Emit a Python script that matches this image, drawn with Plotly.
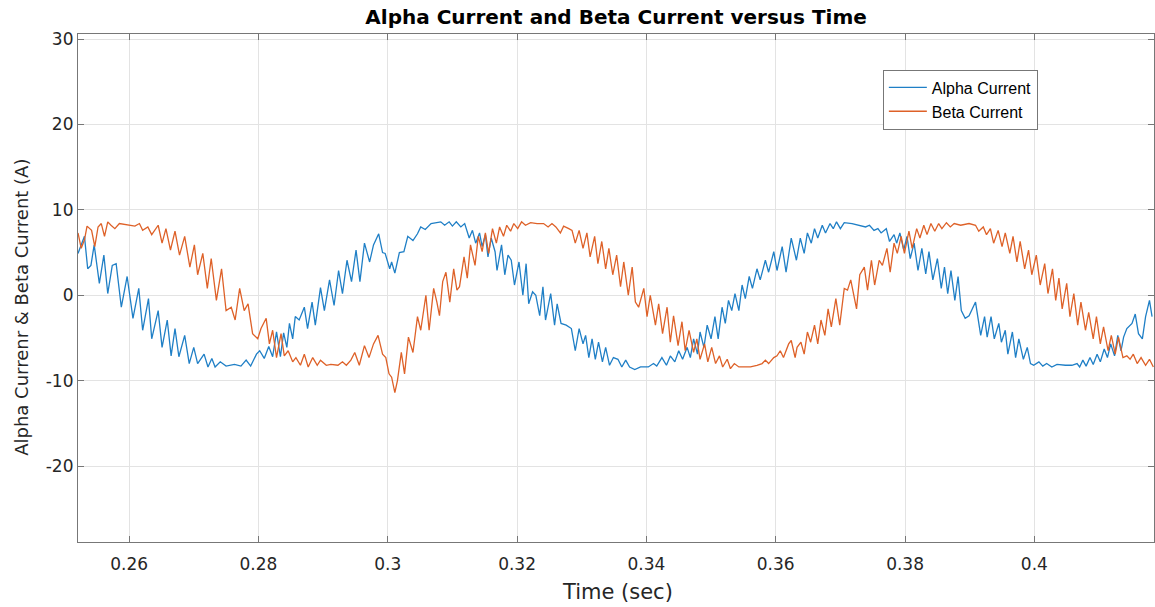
import plotly.graph_objects as go

# Alpha current (blue) vertices: time (s), current (A)
alpha_t = [
0.2521,0.2531,0.2536,0.2541,0.2546,0.2554,0.2561,0.2567,0.2574,0.2580,0.2588,0.2597,0.2606,0.2615,0.2621,0.2630,0.2635,0.2645,0.2651,0.2659,
0.2665,0.2671,0.2677,0.2686,0.2693,0.2700,0.2706,0.2716,0.2722,0.2728,0.2733,0.2741,0.2750,0.2763,0.2773,0.2781,0.2788,0.2797,0.2802,0.2809,
0.2816,0.2822,0.2828,0.2834,0.2839,0.2844,0.2848,0.2853,0.2857,0.2863,0.2871,0.2876,0.2883,0.2888,0.2896,0.2902,0.2910,0.2917,0.2924,0.2930,
0.2937,0.2944,0.2951,0.2957,0.2964,0.2972,0.2978,0.2986,0.2992,0.2996,0.3003,0.3006,0.3011,0.3018,0.3025,0.3031,0.3039,0.3046,0.3051,0.3058,
0.3067,
0.3077,0.3082,0.3088,0.3095,0.3100,0.3106,0.3113,0.3119,0.3126,0.3131,0.3136,0.3142,0.3146,0.3151,0.3155,0.3160,0.3166,0.3169,0.3176,0.3181,
0.3186,0.3191,0.3196,0.3203,0.3209,0.3214,0.3218,0.3224,0.3229,0.3235,0.3240,0.3244,0.3252,0.3258,0.3262,0.3268,0.3276,0.3284,0.3290,0.3296,
0.3302,0.3306,0.3311,0.3316,0.3321,0.3326,0.3332,0.3337,0.3343,0.3349,0.3356,0.3362,0.3368,0.3374,0.3382,0.3391,0.3403,0.3411,0.3416,0.3424,
0.3431,0.3437,0.3444,0.3450,0.3456,0.3463,0.3468,0.3473,0.3479,0.3483,0.3489,0.3494,0.3500,0.3506,0.3511,0.3517,0.3522,0.3527,0.3532,0.3537,
0.3543,0.3548,0.3553,0.3559,0.3564,0.3571,0.3576,0.3584,0.3589,0.3597,0.3602,0.3610,0.3616,0.3624,
0.3632,0.3638,0.3644,0.3649,0.3655,0.3660,0.3665,0.3672,0.3677,0.3684,0.3689,0.3694,0.3700,0.3706,0.3718,0.3731,0.3739,0.3745,0.3752,0.3758,
0.3763,0.3771,0.3776,0.3783,0.3787,0.3792,0.3798,0.3803,0.3808,0.3814,0.3820,0.3826,0.3832,0.3837,0.3843,0.3850,0.3856,0.3861,0.3866,0.3871,
0.3877,0.3882,0.3887,0.3893,0.3899,0.3909,0.3917,0.3923,0.3927,0.3933,0.3938,0.3945,0.3949,0.3955,0.3959,0.3966,0.3971,0.3976,0.3983,0.3989,
0.3994,0.3999,0.4007,0.4013,0.4019,0.4027,0.4035,0.4048,0.4058,0.4066,0.4070,0.4075,0.4080,0.4086,0.4091,0.4097,0.4102,0.4108,0.4113,0.4118,
0.4124,0.4129,0.4134,0.4138,0.4143,0.4151,0.4156,0.4161,0.4167,0.4172,0.4178,0.4182,
]
alpha_i = [
4.9,6.9,3.1,3.5,5.9,1.4,4.7,0.2,3.5,3.7,-1.4,2.2,-2.7,0.8,-4.1,-0.4,-5.1,-1.8,-6.1,-2.9,
-7.1,-3.9,-7.2,-4.7,-8.0,-6.1,-8.0,-6.9,-8.4,-7.4,-8.4,-7.8,-8.3,-8.1,-8.3,-7.6,-8.3,-6.9,-6.5,-7.4,
-6.0,-7.2,-4.3,-7.2,-4.4,-6.1,-3.3,-5.1,-2.5,-2.9,-1.4,-3.9,-0.8,-3.5,0.9,-1.8,1.8,-1.2,2.9,0.2,
4.1,1.6,5.3,1.6,6.1,3.9,5.9,7.2,5.0,4.9,3.1,3.9,2.6,5.0,5.1,6.9,6.4,7.2,8.0,7.7,
8.4,
8.5,8.6,8.2,8.6,8.1,8.6,8.0,8.4,6.7,7.6,6.1,7.3,5.7,7.1,4.5,6.7,5.1,2.9,5.9,2.4,
4.7,4.1,1.2,3.9,0.0,3.7,-1.0,0.4,0.0,-2.4,1.0,-2.9,0.2,-3.5,-1.0,-3.3,-3.5,-3.9,-6.5,-3.9,
-5.7,-4.7,-7.3,-5.1,-7.5,-5.5,-7.8,-6.1,-8.2,-7.3,-7.5,-8.4,-7.6,-8.4,-8.7,-8.4,-8.4,-8.0,-8.3,-7.3,
-8.2,-7.1,-7.8,-6.5,-7.5,-6.1,-7.3,-5.1,-6.9,-4.3,-6.1,-3.5,-5.1,-2.5,-5.1,-1.4,-3.3,-0.6,-1.8,0.2,
-1.8,1.2,-0.4,2.2,0.8,3.1,1.8,4.1,2.7,5.1,2.9,5.7,2.7,6.7,
4.1,6.7,4.9,7.3,6.1,7.8,6.7,8.2,7.3,8.4,7.8,8.6,7.8,8.5,8.4,8.2,8.0,8.2,7.6,7.8,
7.3,7.8,6.3,7.1,6.1,7.3,5.3,6.9,4.3,6.1,2.9,5.5,2.5,5.1,1.8,4.3,0.8,3.3,0.2,2.9,
-0.6,2.2,-1.8,-2.7,-2.4,-0.8,-4.7,-2.5,-4.9,-2.5,-5.1,-3.3,-5.5,-4.1,-6.9,-4.3,-7.3,-5.1,-7.5,-6.1,
-8.0,-8.2,-7.8,-8.3,-8.0,-8.4,-8.1,-8.2,-8.2,-8.0,-8.4,-7.6,-8.3,-7.3,-8.1,-6.9,-7.8,-6.3,-7.3,-5.7,
-7.1,-4.7,-6.5,-4.9,-3.9,-3.3,-2.2,-4.5,-5.1,-2.5,-0.6,-2.5,
]

# Beta current (orange) vertices: time (s), current (A)
beta_t = [
0.2521,0.2526,0.2531,0.2535,0.2542,0.2547,0.2552,0.2557,0.2562,0.2567,0.2572,0.2578,0.2585,0.2598,0.2609,0.2616,0.2621,0.2629,0.2635,0.2645,
0.2651,0.2657,0.2664,0.2671,0.2678,0.2686,0.2694,0.2701,0.2706,0.2714,0.2721,0.2727,0.2735,0.2743,0.2750,0.2758,0.2764,0.2771,0.2778,0.2784,
0.2791,0.2799,0.2804,0.2812,0.2817,0.2822,0.2828,0.2835,0.2840,0.2846,0.2853,0.2858,0.2865,0.2871,0.2877,0.2884,0.2891,0.2896,0.2905,0.2912,
0.2923,0.2930,0.2936,0.2943,0.2949,0.2956,0.2964,0.2971,0.2978,0.2985,0.2992,0.2997,0.3002,0.3006,0.3011,0.3015,0.3021,0.3026,0.3032,0.3039,
0.3046,0.3051,0.3059,0.3064,0.3071,
0.3076,0.3080,0.3085,0.3090,0.3096,0.3102,0.3107,0.3111,0.3118,0.3123,0.3128,0.3135,0.3140,0.3146,0.3151,0.3156,0.3162,0.3168,0.3173,0.3179,
0.3184,0.3190,0.3195,0.3201,0.3207,0.3213,0.3221,0.3231,0.3241,0.3248,0.3254,0.3260,0.3267,0.3272,0.3280,0.3285,0.3290,0.3296,0.3302,0.3308,
0.3313,0.3320,0.3325,0.3331,0.3337,0.3342,0.3348,0.3354,0.3360,0.3365,0.3372,0.3378,0.3383,0.3388,0.3396,0.3401,0.3406,0.3414,0.3419,0.3425,
0.3432,0.3437,0.3442,0.3449,0.3455,0.3460,0.3466,0.3473,0.3478,0.3483,0.3490,0.3495,0.3501,0.3507,0.3513,0.3518,0.3525,0.3530,0.3536,0.3543,
0.3550,0.3561,0.3571,0.3579,0.3584,0.3589,0.3597,0.3602,0.3607,0.3612,0.3620,0.3624,
0.3630,0.3633,0.3639,0.3644,0.3649,0.3654,0.3660,0.3665,0.3670,0.3676,0.3681,0.3686,0.3693,0.3699,0.3706,0.3711,0.3716,0.3725,0.3730,0.3737,
0.3742,0.3748,0.3753,0.3760,0.3765,0.3772,0.3777,0.3783,0.3788,0.3794,0.3799,0.3806,0.3811,0.3818,0.3823,0.3829,0.3834,0.3840,0.3846,0.3852,
0.3857,0.3864,0.3870,0.3876,0.3886,0.3899,0.3909,0.3914,0.3921,0.3926,0.3932,0.3937,0.3944,0.3950,0.3955,0.3962,0.3967,0.3973,0.3978,0.3985,
0.3991,0.3996,0.4003,0.4009,0.4016,0.4021,0.4028,0.4033,0.4038,0.4043,0.4050,0.4055,0.4061,0.4067,0.4072,0.4079,0.4084,0.4091,0.4096,0.4102,
0.4107,0.4114,0.4119,0.4125,0.4130,0.4137,0.4143,0.4148,0.4153,0.4159,0.4165,0.4172,0.4178,0.4184,
]
beta_i = [
7.3,5.5,6.5,8.1,7.6,5.7,8.0,8.4,6.9,8.6,8.2,7.8,8.4,8.2,8.1,8.4,7.6,8.0,7.1,8.2,
6.1,7.8,5.3,7.5,4.7,6.9,3.3,5.9,2.4,4.9,0.8,4.3,-0.6,3.1,-1.8,-1.4,-2.9,0.8,-1.8,-1.0,
-4.5,-5.1,-3.9,-2.7,-5.7,-4.1,-7.3,-4.5,-7.1,-6.5,-7.8,-7.3,-8.2,-6.9,-8.4,-7.3,-8.2,-7.6,-8.2,-8.1,
-8.2,-7.8,-8.2,-7.6,-6.7,-8.2,-5.9,-7.3,-5.7,-4.7,-6.9,-7.3,-9.2,-9.6,-11.4,-10.0,-6.7,-9.2,-4.9,-6.7,
-2.5,-4.1,0.0,-4.1,0.8,
-0.8,-2.4,1.6,2.7,-0.8,3.1,0.6,1.0,4.5,2.0,5.9,3.5,6.9,5.1,7.3,4.9,7.8,6.1,8.0,6.9,
8.2,7.5,8.4,7.8,8.6,8.2,8.5,8.4,8.4,8.0,8.4,8.0,7.3,8.1,7.8,7.6,6.1,7.6,5.5,7.3,
4.5,6.9,3.7,6.3,3.1,5.5,2.4,4.7,1.0,3.9,0.0,3.3,-0.8,-1.4,0.8,-2.5,0.0,-3.5,-1.0,-4.5,
-1.4,-5.5,-2.4,-5.9,-3.1,-6.5,-4.1,-6.7,-5.1,-7.5,-5.7,-7.8,-6.1,-8.0,-7.1,-8.4,-7.5,-8.6,-8.0,-8.4,
-8.4,-8.4,-8.2,-8.0,-7.6,-8.0,-7.3,-7.1,-6.5,-7.3,-5.7,-5.3,
-7.3,-6.1,-5.5,-6.9,-4.3,-5.5,-3.5,-5.7,-2.9,-4.7,-1.6,-3.7,-0.4,-3.5,0.8,0.6,1.8,-1.6,2.4,3.3,
0.6,4.1,1.2,4.1,3.5,5.5,2.7,6.1,4.9,6.9,4.9,7.5,5.5,7.8,6.7,8.2,7.1,8.4,7.5,8.4,
7.8,8.5,8.0,8.4,8.2,8.4,8.2,7.5,8.0,7.1,7.8,6.1,7.6,5.7,7.3,4.9,6.9,3.9,6.3,3.1,
5.3,2.4,4.7,1.2,3.7,0.2,3.1,-0.6,2.0,-1.6,1.4,-2.5,0.2,-3.5,-0.8,-4.1,-2.0,-5.1,-2.5,-5.7,
-3.7,-6.5,-4.7,-6.9,-4.9,-7.3,-7.1,-7.5,-6.9,-8.0,-7.3,-8.2,-7.5,-8.4,
]

x_ticks = [0.26, 0.28, 0.30, 0.32, 0.34, 0.36, 0.38, 0.40]
x_tick_text = ["0.26", "0.28", "0.3", "0.32", "0.34", "0.36", "0.38", "0.4"]
y_ticks = [-20, -10, 0, 10, 20, 30]
y_tick_text = ["-20", "-10", "0", "10", "20", "30"]

BLUE = "#1f7fc6"
ORANGE = "#de6128"
FONT = "DejaVu Sans, Liberation Sans, sans-serif"
LFONT = "Liberation Sans, Arial, sans-serif"

fig = go.Figure()
fig.add_trace(go.Scatter(x=alpha_t, y=alpha_i, mode="lines", name="Alpha Current",
                         line=dict(color=BLUE, width=1.3)))
fig.add_trace(go.Scatter(x=beta_t, y=beta_i, mode="lines", name="Beta Current",
                         line=dict(color=ORANGE, width=1.3)))

axis_common = dict(
    showgrid=True, gridcolor="#e3e3e3", gridwidth=1,
    showline=True, linecolor="#777777", linewidth=1.2, mirror="ticks",
    ticks="inside", ticklen=6, tickcolor="#777777", tickwidth=1.2,
    zeroline=False, tickfont=dict(family=FONT, size=17, color="#262626"),
)

fig.update_layout(
    width=1155, height=607,
    margin=dict(l=78, r=1, t=34, b=65),
    paper_bgcolor="white", plot_bgcolor="white",
    title=dict(text="<b>Alpha Current and Beta Current versus Time</b>",
               x=0.5334, xanchor="center", y=0.972, yanchor="middle",
               font=dict(family=FONT, size=20, color="#000000")),
    xaxis=dict(range=[0.2521, 0.4185], tickvals=x_ticks, ticktext=x_tick_text,
               ticklabelstandoff=6, **axis_common),
    yaxis=dict(range=[-28.9, 30.6], tickvals=y_ticks, ticktext=y_tick_text,
               **axis_common),
    legend=dict(x=0.748, y=0.93, xanchor="left", yanchor="top",
                bgcolor="white", bordercolor="#777777", borderwidth=1,
                font=dict(family=LFONT, size=16, color="#000000"),
                tracegroupgap=0, itemwidth=38),
    showlegend=True,
    annotations=[
        dict(text="Time (sec)", xref="paper", yref="paper", x=0.5018, y=-0.099,
             xanchor="center", yanchor="middle", showarrow=False,
             font=dict(family=FONT, size=21, color="#262626")),
        dict(text="Alpha Currenr & Beta Current (A)", xref="paper", yref="paper",
             x=-0.0525, y=0.462, xanchor="center", yanchor="middle", textangle=-90,
             showarrow=False, font=dict(family=FONT, size=18, color="#262626")),
    ],
)

fig.write_html("out.html")
